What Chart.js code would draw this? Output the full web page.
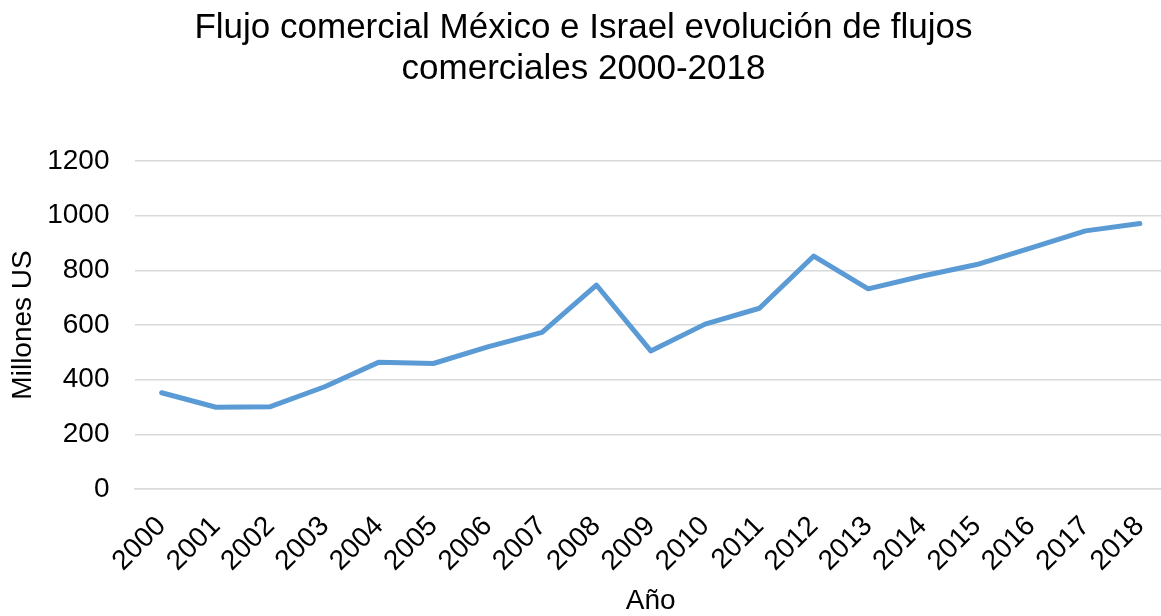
<!DOCTYPE html>
<html>
<head>
<meta charset="utf-8">
<script src="https://cdn.jsdelivr.net/npm/chart.js@4"></script>
<style>
html,body{margin:0;padding:0;background:#fff;overflow:hidden;}
#c{display:block;}
</style>
</head>
<body>
<canvas id="c" width="1167" height="616" style="width:1167px;height:616px"></canvas>
<script>
const years = ['2000','2001','2002','2003','2004','2005','2006','2007','2008','2009','2010','2011','2012','2013','2014','2015','2016','2017','2018'];
const flujo = [352, 299, 301, 374, 464, 459, 520, 573, 746, 505, 603, 661, 852, 732, 779, 821, 882, 944, 971];
const yTicks = [0, 200, 400, 600, 800, 1000, 1200];
const titleLines = ['Flujo comercial México e Israel evolución de flujos', 'comerciales 2000-2018'];
const yTitle = 'Millones US';
const xTitle = 'Año';

const FONT = "'Liberation Sans', Arial, sans-serif";
new Chart(document.getElementById('c'), {
  type: 'line',
  data: {
    labels: years,
    datasets: [{
      data: flujo,
      borderColor: '#5b9bd5',
      borderWidth: 5,
      borderCapStyle: 'round',
      borderJoinStyle: 'round',
      pointRadius: 0,
      tension: 0,
      fill: false
    }]
  },
  options: {
    responsive: false,
    animation: false,
    layout: { padding: { left: 0, right: 0, top: 0, bottom: 0 } },
    plugins: {
      legend: { display: false },
      tooltip: { enabled: false },
      title: {
        display: true,
        text: titleLines,
        color: '#000',
        font: { family: FONT, size: 35, weight: 'normal', lineHeight: 1.17 },
        padding: { top: 8, bottom: 71 }
      }
    },
    scales: {
      x: {
        offset: true,
        grid: { display: false, drawTicks: false },
        border: { display: true, color: '#d9d9d9', width: 1.5 },
        ticks: {
          color: '#000',
          font: { family: FONT, size: 28 },
          maxRotation: 45, minRotation: 45,
          autoSkip: false,
          padding: 21
        },
        title: {
          display: true, text: xTitle, color: '#000',
          font: { family: FONT, size: 28, lineHeight: 1.05 },
          padding: { top: 0, bottom: 0 }
        },
        afterFit: (s) => { s.height = 127; s.paddingLeft = 0; s.paddingRight = 0; }
      },
      y: {
        min: 0, max: 1200,
        afterBuildTicks: (s) => { s.ticks = yTicks.map(v => ({ value: v })); },
        grid: { color: '#d9d9d9', lineWidth: 1.5, drawTicks: false },
        border: { display: false },
        ticks: {
          color: '#000',
          font: { family: FONT, size: 28 },
          padding: 25,
          callback: (v) => String(v)
        },
        title: {
          display: true, text: yTitle, color: '#000',
          font: { family: FONT, size: 28 },
          padding: { top: 6, bottom: 0 }
        },
        afterFit: (s) => { s.width = 134.5; }
      }
    }
  }
});
</script>
</body>
</html>
